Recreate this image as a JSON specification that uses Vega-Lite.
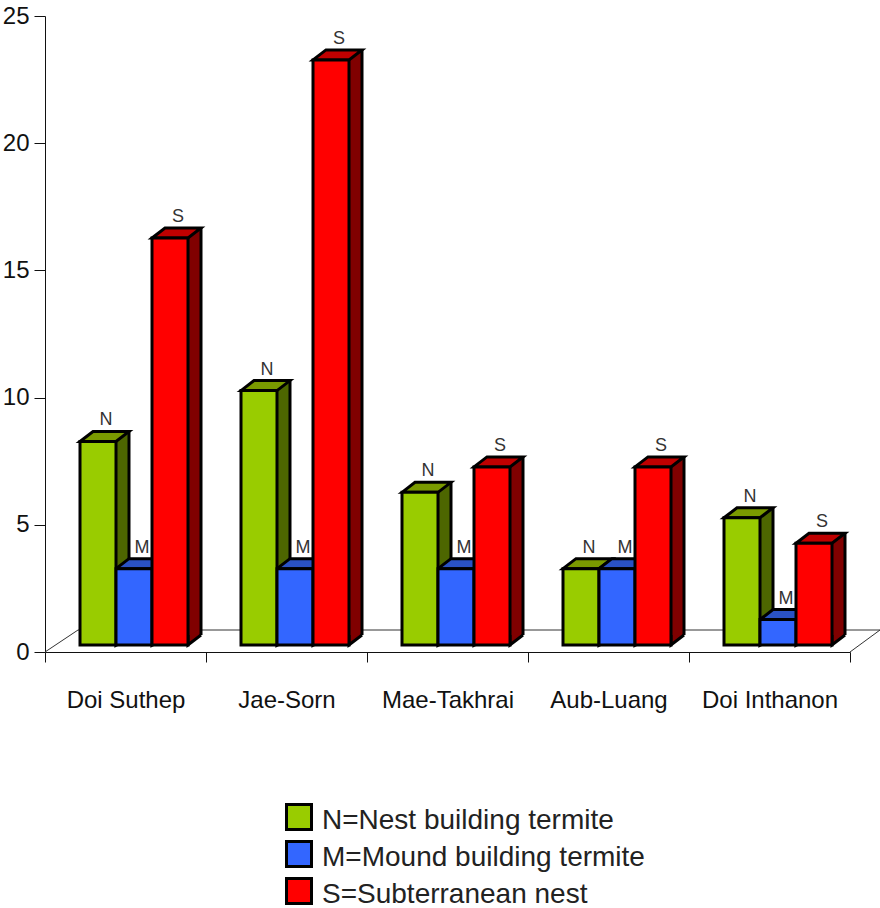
{
  "$schema": "https://vega.github.io/schema/vega-lite/v6.json",
  "width": 805,
  "height": 636,
  "autosize": {"type": "none"},
  "padding": {"left": 45, "top": 16, "right": 30, "bottom": 256},
  "background": "white",
  "config": {
    "view": {"stroke": null},
    "font": "Liberation Sans"
  },
  "data": {
    "values": [
      {"site": "Doi Suthep", "nest": "N=Nest building termite", "code": "N", "count": 8},
      {"site": "Doi Suthep", "nest": "M=Mound building termite", "code": "M", "count": 3},
      {"site": "Doi Suthep", "nest": "S=Subterranean nest", "code": "S", "count": 16},
      {"site": "Jae-Sorn", "nest": "N=Nest building termite", "code": "N", "count": 10},
      {"site": "Jae-Sorn", "nest": "M=Mound building termite", "code": "M", "count": 3},
      {"site": "Jae-Sorn", "nest": "S=Subterranean nest", "code": "S", "count": 23},
      {"site": "Mae-Takhrai", "nest": "N=Nest building termite", "code": "N", "count": 6},
      {"site": "Mae-Takhrai", "nest": "M=Mound building termite", "code": "M", "count": 3},
      {"site": "Mae-Takhrai", "nest": "S=Subterranean nest", "code": "S", "count": 7},
      {"site": "Aub-Luang", "nest": "N=Nest building termite", "code": "N", "count": 3},
      {"site": "Aub-Luang", "nest": "M=Mound building termite", "code": "M", "count": 3},
      {"site": "Aub-Luang", "nest": "S=Subterranean nest", "code": "S", "count": 7},
      {"site": "Doi Inthanon", "nest": "N=Nest building termite", "code": "N", "count": 5},
      {"site": "Doi Inthanon", "nest": "M=Mound building termite", "code": "M", "count": 1},
      {"site": "Doi Inthanon", "nest": "S=Subterranean nest", "code": "S", "count": 4}
    ]
  },
  "encoding": {
    "x": {
      "field": "site",
      "type": "nominal",
      "sort": null,
      "title": null,
      "scale": {"type": "band", "paddingInner": 0, "paddingOuter": 0},
      "axis": {
        "labelAngle": 0,
        "labelFontSize": 24,
        "labelColor": "#111111",
        "labelPadding": 26,
        "tickBand": "extent",
        "tickSize": 10,
        "tickColor": "#111111",
        "domainColor": "#111111",
        "grid": false
      }
    },
    "xOffset": {
      "field": "nest",
      "type": "nominal",
      "scale": {
        "type": "band",
        "domain": ["N=Nest building termite", "M=Mound building termite", "S=Subterranean nest"],
        "range": [35, 143],
        "paddingInner": 0,
        "paddingOuter": 0
      }
    },
    "y": {
      "field": "count",
      "type": "quantitative",
      "stack": null,
      "title": null,
      "scale": {"domain": [0, 25], "nice": false},
      "axis": {
        "values": [0, 5, 10, 15, 20, 25],
        "labelFontSize": 24,
        "labelColor": "#111111",
        "labelPadding": 5,
        "tickSize": 11,
        "tickColor": "#111111",
        "domainColor": "#111111",
        "grid": false
      }
    }
  },
  "layer": [
    {
      "description": "Floor outline behind the bars, anchored on the first bar of the first site",
      "transform": [{"filter": "datum.site === 'Doi Suthep' && datum.code === 'N'"}],
      "mark": {
        "type": "point",
        "shape": "M -53 0 L -20 -22 L 782 -22 L 752 0",
        "size": 4,
        "filled": true,
        "fill": "transparent",
        "stroke": "#333333",
        "strokeWidth": 1,
        "opacity": 1
      },
      "encoding": {
        "y": {"datum": 0}
      }
    },
    {
      "description": "Shaded side face of each bar",
      "mark": {"type": "bar", "width": 13, "yOffset": -17, "y2Offset": -17},
      "encoding": {
        "xOffset": {
          "field": "nest",
          "type": "nominal",
          "scale": {
            "type": "band",
            "domain": ["N=Nest building termite", "M=Mound building termite", "S=Subterranean nest"],
            "range": [59.5, 167.5],
            "paddingInner": 0,
            "paddingOuter": 0
          }
        },
        "y2": {"datum": 0},
        "fill": {
          "field": "nest",
          "type": "nominal",
          "legend": null,
          "scale": {
            "domain": ["N=Nest building termite", "M=Mound building termite", "S=Subterranean nest"],
            "range": ["#4d6600", "#1f45b0", "#800000"]
          }
        }
      }
    },
    {
      "description": "Lower wedge of the side face, with its slanted edge",
      "mark": {
        "type": "point",
        "shape": "M 18 -10 L 18 0 L 31 -10",
        "size": 4,
        "filled": true,
        "stroke": "black",
        "strokeWidth": 3,
        "opacity": 1,
        "yOffset": -7
      },
      "encoding": {
        "y": {"datum": 0},
        "fill": {
          "field": "nest",
          "type": "nominal",
          "legend": null,
          "scale": {
            "domain": ["N=Nest building termite", "M=Mound building termite", "S=Subterranean nest"],
            "range": ["#4d6600", "#1f45b0", "#800000"]
          }
        }
      }
    },
    {
      "description": "Back vertical edge of each bar",
      "mark": {"type": "rule", "color": "black", "strokeWidth": 3, "yOffset": -17, "y2Offset": -17},
      "encoding": {
        "xOffset": {
          "field": "nest",
          "type": "nominal",
          "scale": {
            "type": "band",
            "domain": ["N=Nest building termite", "M=Mound building termite", "S=Subterranean nest"],
            "range": [66, 174],
            "paddingInner": 0,
            "paddingOuter": 0
          }
        },
        "y2": {"datum": 0}
      }
    },
    {
      "description": "Top face of each bar",
      "mark": {
        "type": "point",
        "shape": "M -18 0 L -5 -10 L 31 -10 L 18 0 Z",
        "size": 4,
        "filled": true,
        "stroke": "black",
        "strokeWidth": 3,
        "opacity": 1,
        "yOffset": -7
      },
      "encoding": {
        "fill": {
          "field": "nest",
          "type": "nominal",
          "legend": null,
          "scale": {
            "domain": ["N=Nest building termite", "M=Mound building termite", "S=Subterranean nest"],
            "range": ["#7a9a00", "#2a52c4", "#c00000"]
          }
        }
      }
    },
    {
      "description": "Front face of each bar, which also carries the legend",
      "mark": {"type": "bar", "stroke": "black", "strokeWidth": 3, "yOffset": -7, "y2Offset": -7},
      "encoding": {
        "y2": {"datum": 0},
        "color": {
          "field": "nest",
          "type": "nominal",
          "title": null,
          "scale": {
            "domain": ["N=Nest building termite", "M=Mound building termite", "S=Subterranean nest"],
            "range": ["#99cc00", "#3366ff", "#ff0000"]
          },
          "legend": {
            "orient": "none",
            "legendX": 240,
            "legendY": 787,
            "direction": "vertical",
            "symbolType": "square",
            "symbolSize": 625,
            "symbolStrokeColor": "black",
            "symbolStrokeWidth": 3,
            "labelFontSize": 28,
            "labelColor": "#222222",
            "labelOffset": 9,
            "labelLimit": 400,
            "rowPadding": -1,
            "padding": 0,
            "encode": {"labels": {"update": {"dy": {"value": 4}}}}
          }
        }
      }
    },
    {
      "description": "Nest type letter over each bar",
      "mark": {"type": "text", "fontSize": 18, "color": "#333333", "baseline": "alphabetic", "align": "center", "dx": 8, "dy": -23},
      "encoding": {
        "text": {"field": "code", "type": "nominal"}
      }
    }
  ],
  "resolve": {"scale": {"color": "independent", "fill": "independent", "xOffset": "independent"}}
}
